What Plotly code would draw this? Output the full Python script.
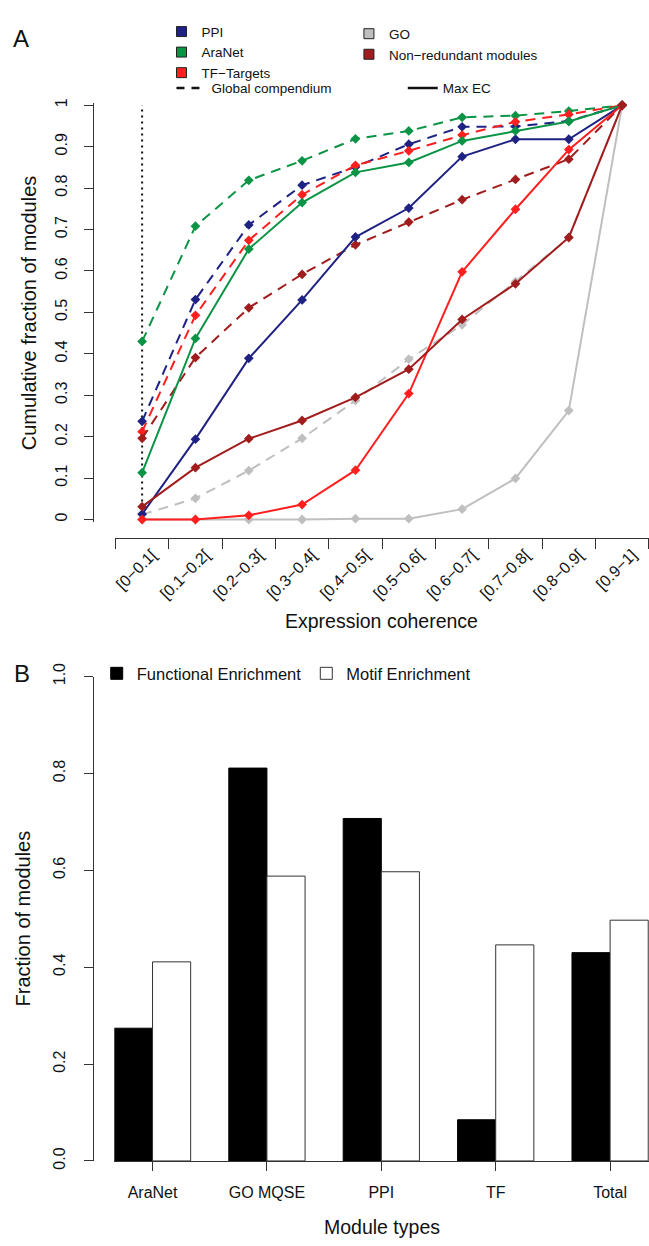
import plotly.graph_objects as go

W, H = 649, 1246
FONT = "Liberation Sans, Arial, Helvetica, sans-serif"

# ---------------- Panel A data ----------------
categories = ["[0\u22120.1[", "[0.1\u22120.2[", "[0.2\u22120.3[", "[0.3\u22120.4[", "[0.4\u22120.5[",
              "[0.5\u22120.6[", "[0.6\u22120.7[", "[0.7\u22120.8[", "[0.8\u22120.9[", "[0.9\u22121]"]

ppi_global = [0.237, 0.531, 0.711, 0.807, 0.851, 0.906, 0.948, 0.949, 0.962, 1.0]
ppi_max = [0.013, 0.194, 0.389, 0.530, 0.682, 0.752, 0.876, 0.918, 0.918, 1.0]
aranet_global = [0.430, 0.708, 0.819, 0.866, 0.919, 0.938, 0.971, 0.975, 0.986, 1.0]
aranet_max = [0.113, 0.437, 0.653, 0.765, 0.838, 0.862, 0.914, 0.938, 0.961, 1.0]
tf_global = [0.212, 0.493, 0.674, 0.784, 0.855, 0.890, 0.928, 0.960, 0.978, 1.0]
tf_max = [0.0, 0.0, 0.010, 0.036, 0.119, 0.304, 0.598, 0.749, 0.893, 1.0]
go_global = [0.012, 0.051, 0.118, 0.196, 0.287, 0.387, 0.470, 0.574, 0.680, 1.0]
go_max = [0.0, 0.0, 0.0, 0.0, 0.002, 0.002, 0.025, 0.099, 0.263, 1.0]
nr_global = [0.196, 0.391, 0.511, 0.592, 0.663, 0.718, 0.772, 0.821, 0.870, 1.0]
nr_max = [0.031, 0.125, 0.195, 0.239, 0.295, 0.363, 0.483, 0.569, 0.681, 1.0]

y_ticks_a = [0, 0.1, 0.2, 0.3, 0.4, 0.5, 0.6, 0.7, 0.8, 0.9, 1]
y_ticktext_a = ["0", "0.1", "0.2", "0.3", "0.4", "0.5", "0.6", "0.7", "0.8", "0.9", "1"]

# ---------------- Panel B data ----------------
module_types = ["AraNet", "GO MQSE", "PPI", "TF", "Total"]
functional_enrichment = [0.274, 0.811, 0.707, 0.085, 0.430]
motif_enrichment = [0.411, 0.588, 0.597, 0.446, 0.497]
y_ticks_b = [0.0, 0.2, 0.4, 0.6, 0.8, 1.0]
y_ticktext_b = ["0.0", "0.2", "0.4", "0.6", "0.8", "1.0"]

# ---------------- styling ----------------
C_PPI = "#1f2283"
C_ARA = "#0b9446"
C_TF = "#ff1f1f"
C_GO = "#bfbfbf"
C_NR = "#a11c1c"
AXC = "#333333"
DASH = "10px,7px"


def fx(p):
    return p / W


def fy(p):
    return 1 - p / H


xs = list(range(1, len(categories) + 1))

fig = go.Figure()

series = [
    ("GO", C_GO, go_global, go_max),
    ("PPI", C_PPI, ppi_global, ppi_max),
    ("AraNet", C_ARA, aranet_global, aranet_max),
    ("TF\u2212Targets", C_TF, tf_global, tf_max),
    ("Non\u2212redundant modules", C_NR, nr_global, nr_max),
]

for name, col, g, m in series:
    fig.add_trace(go.Scatter(
        x=xs, y=g, mode="lines+markers", name=name + " (global)",
        line=dict(color=col, width=2, dash=DASH),
        marker=dict(symbol="diamond", size=7.5, color=col),
        showlegend=False, cliponaxis=False, xaxis="x", yaxis="y"))
for name, col, g, m in series:
    fig.add_trace(go.Scatter(
        x=xs, y=m, mode="lines+markers", name=name + " (max EC)",
        line=dict(color=col, width=2),
        marker=dict(symbol="diamond", size=7.5, color=col),
        showlegend=False, cliponaxis=False, xaxis="x", yaxis="y"))

# dotted reference line at the first coherence bin
fig.add_shape(type="line", xref="x", yref="y", x0=xs[0], x1=xs[0], y0=0, y1=1,
              line=dict(color="#111111", width=2, dash="2px,4px"), layer="below")

# legend entries panel A
for name, col, leg in [("PPI", C_PPI, "legend"), ("AraNet", C_ARA, "legend"),
                       ("TF\u2212Targets", C_TF, "legend"),
                       ("GO", C_GO, "legend2"), ("Non\u2212redundant modules", C_NR, "legend2")]:
    fig.add_trace(go.Scatter(
        x=[None], y=[None], mode="markers", name=name, legend=leg,
        marker=dict(symbol="square", size=10, color=col, line=dict(color="#222222", width=1)),
        xaxis="x", yaxis="y"))
fig.add_trace(go.Scatter(x=[None], y=[None], mode="lines", name="Global compendium",
                         legend="legend3", line=dict(color="#111111", width=2.5, dash="8px,7px"),
                         xaxis="x", yaxis="y"))
fig.add_trace(go.Scatter(x=[None], y=[None], mode="lines", name="Max EC",
                         legend="legend4", line=dict(color="#111111", width=2.5),
                         xaxis="x", yaxis="y"))

# ---------------- Panel B bars ----------------
fig.add_trace(go.Bar(x=module_types, y=functional_enrichment, name="Functional Enrichment",
                     marker=dict(color="#000000", line=dict(color="#000000", width=1)),
                     legend="legend5", xaxis="x2", yaxis="y2"))
fig.add_trace(go.Bar(x=module_types, y=motif_enrichment, name="Motif Enrichment",
                     marker=dict(color="#ffffff", line=dict(color="#333333", width=1)),
                     legend="legend5", xaxis="x2", yaxis="y2"))

# ---------------- layout ----------------
tickfont = dict(family=FONT, size=16, color="#111111")
pad_a = 0.006
unit_a = 422.0
y0_px, y1_px = 515.0, 93.0

common_leg = dict(bgcolor="rgba(0,0,0,0)", borderwidth=0, xanchor="left", yanchor="middle",
                  font=dict(family=FONT, size=13.5, color="#111111"), tracegroupgap=0,
                  itemclick=False, itemdoubleclick=False)


def ann(text, x, y, size, angle=0):
    return dict(text=text, x=fx(x), y=fy(y), xref="paper", yref="paper", showarrow=False,
                xanchor="center", yanchor="middle", textangle=angle,
                font=dict(family=FONT, size=size, color="#111111"))


fig.update_layout(
    width=W, height=H,
    margin=dict(l=0, r=0, t=0, b=0),
    paper_bgcolor="white", plot_bgcolor="white",
    font=dict(family=FONT, color="#111111"),
    barmode="group", bargap=1 / 3, bargroupgap=0,
    xaxis=dict(
        domain=[fx(113.8), fx(648.8)], range=[0.5, len(categories) + 0.5],
        anchor="free", position=fy(534),
        tickmode="array", tickvals=xs, ticktext=categories, tickangle=-45,
        ticks="", showline=True, linecolor=AXC, linewidth=1,
        minor=dict(tickmode="array", tickvals=[v - 0.5 for v in xs] + [xs[-1] + 0.5],
                   ticks="outside", ticklen=10, tickcolor=AXC, tickwidth=1),
        showgrid=False, zeroline=False, tickfont=tickfont, ticklabelshift=10),
    yaxis=dict(
        domain=[fy(y0_px + pad_a * unit_a), fy(y1_px - pad_a * unit_a)],
        range=[-pad_a, 1 + pad_a],
        anchor="free", position=fx(91),
        tickmode="array", tickvals=y_ticks_a, ticktext=y_ticktext_a, tickangle=-90,
        ticks="outside", ticklen=9, tickcolor=AXC, showline=True, linecolor=AXC, linewidth=1,
        showgrid=False, zeroline=False, tickfont=tickfont, ticklabelstandoff=10),
    xaxis2=dict(
        domain=[fx(112.75), 1.0], range=[-1 / 3, 4.34], type="category",
        categoryorder="array", categoryarray=module_types,
        anchor="y2", ticks="outside", ticklen=9, tickcolor=AXC,
        showline=True, linecolor=AXC, linewidth=1, showgrid=False, zeroline=False,
        tickfont=tickfont, ticklabelstandoff=8),
    yaxis2=dict(
        domain=[fy(1168.5), fy(675)], range=[0, 1],
        anchor="free", position=fx(91),
        tickmode="array", tickvals=y_ticks_b, ticktext=y_ticktext_b, tickangle=-90,
        ticks="outside", ticklen=9, tickcolor=AXC, showline=True, linecolor=AXC, linewidth=1,
        showgrid=False, zeroline=False, tickfont=tickfont, ticklabelstandoff=12),
    legend=dict(common_leg, x=fx(160), y=fy(39)),
    legend2=dict(common_leg, x=fx(348), y=fy(31)),
    legend3=dict(common_leg, x=fx(170), y=fy(75.5)),
    legend4=dict(common_leg, x=fx(402), y=fy(75.5)),
    legend5=dict(common_leg, x=fx(95), y=fy(672), orientation="h",
                 font=dict(family=FONT, size=16.5, color="#111111")),
    annotations=[
        ann("A", 19, 25, 24),
        ann("B", 20, 672, 24),
        ann("Cumulative fraction of modules", 27, 304, 20, -90),
        ann("Expression coherence", 381, 618, 19.5),
        ann("Fraction of modules", 22, 921.5, 20, -90),
        ann("Module types", 381, 1236, 19.5),
    ],
)

fig.write_html("out.html", config={"displayModeBar": False},
               post_script="document.body.style.margin='0';document.body.style.overflow='hidden';")
